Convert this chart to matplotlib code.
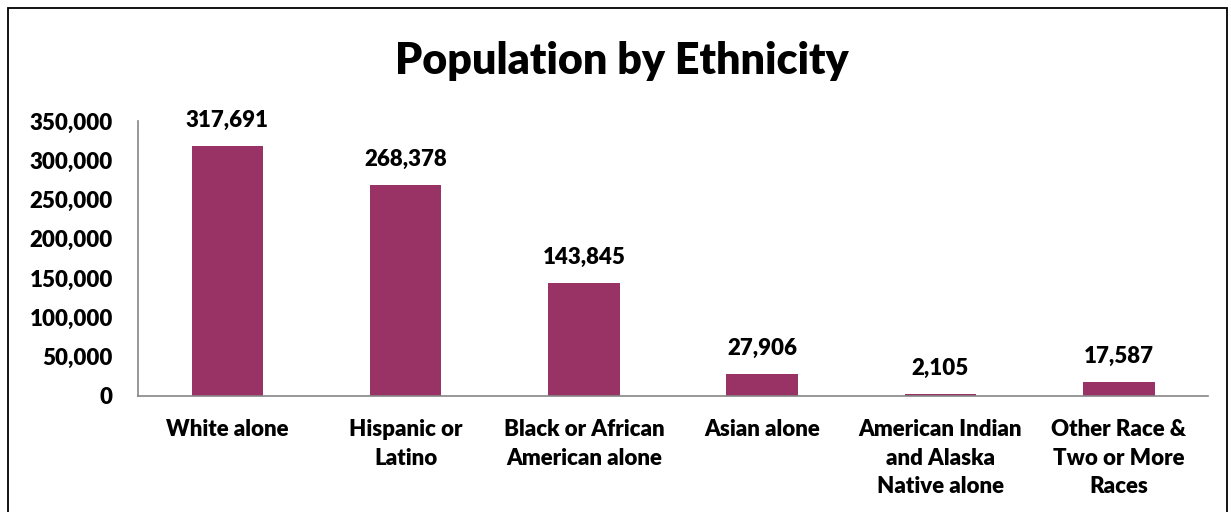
import matplotlib
matplotlib.use("Agg")
import matplotlib.pyplot as plt
from matplotlib.patches import Rectangle
from matplotlib.ticker import FuncFormatter

categories = [
    "White alone",
    "Hispanic or\nLatino",
    "Black or African\nAmerican alone",
    "Asian alone",
    "American Indian\nand Alaska\nNative alone",
    "Other Race &\nTwo or More\nRaces",
]
population = [317691, 268378, 143845, 27906, 2105, 17587]
y_ticks = [0, 50000, 100000, 150000, 200000, 250000, 300000, 350000]

W, H = 1231, 512
plt.rcParams["font.family"] = ["Lato", "DejaVu Sans"]
plt.rcParams["font.weight"] = "heavy"

fig = plt.figure(figsize=(W / 100, H / 100), dpi=100)
ax = fig.add_axes([138 / W, 1 - 396 / H, (1208 - 138) / W, (396 - 121) / H])

x = range(len(categories))
ax.bar(x, population, width=0.4, color="#993366")
ax.set_xlim(-0.5, len(categories) - 0.5)
ax.set_ylim(0, 350000)
ax.set_yticks(y_ticks)
ax.yaxis.set_major_formatter(FuncFormatter(lambda v, p: f"{int(v):,}"))
ax.set_xticks(list(x))
ax.set_xticklabels(categories, fontsize=16, fontweight="heavy", linespacing=1.45)
ax.tick_params(axis="y", length=0, labelsize=16, pad=18)
ax.tick_params(axis="x", length=0, pad=16.5)
for lbl in ax.get_yticklabels():
    lbl.set_fontweight("heavy")

for s in ("top", "right"):
    ax.spines[s].set_visible(False)
for s in ("left", "bottom"):
    ax.spines[s].set_color("#868686")
    ax.spines[s].set_linewidth(1.2)

for xi, v in zip(x, population):
    ax.annotate(f"{v:,}", (xi, v), xytext=(0, 11), textcoords="offset points",
                ha="center", va="bottom", fontsize=16, fontweight="heavy")

fig.text(622 / W, 1 - 61 / H, "Population by Ethnicity", ha="center", va="center",
         fontsize=31, fontweight="heavy")

fig.patches.append(Rectangle((8 / W, -0.05), (1227 - 8) / W, 1 - 8 / H + 0.05,
                             transform=fig.transFigure, fill=False,
                             edgecolor="black", linewidth=1.3))

fig.savefig("out.png", dpi=100)
